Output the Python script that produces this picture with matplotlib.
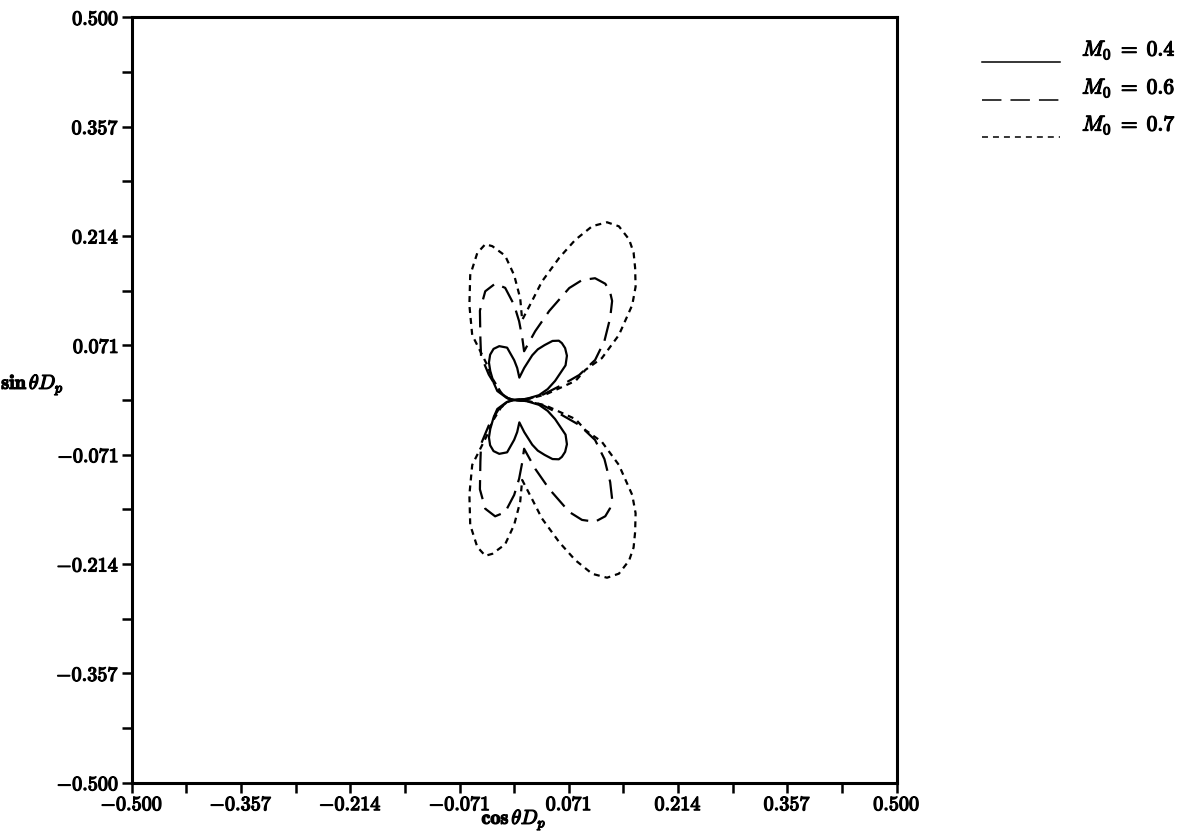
import numpy as np
import matplotlib.pyplot as plt
import matplotlib.patheffects as pe
from matplotlib.lines import Line2D

plt.rcParams['mathtext.fontset'] = 'cm'
plt.rcParams['lines.scale_dashes'] = False

theta_04 = [0, 5, 11, 18, 25, 34, 40, 45.5, 50, 53, 57, 61, 65, 68, 72.6, 77,
            84.6, 90, 97.7, 105.5, 112, 118, 124, 129.6, 140, 152, 165, 180]
dp_04 = [0, 0.016, 0.033, 0.046, 0.059, 0.081, 0.090, 0.095, 0.097, 0.097, 0.092, 0.082,
         0.073, 0.063, 0.044, 0.030, 0.042, 0.052, 0.069, 0.073, 0.072, 0.067, 0.059,
         0.049, 0.035, 0.025, 0.010, 0]

theta_06 = [0, 5, 10, 17.4, 21, 26.3, 33.2, 40.5, 45.3, 48.5, 51.9, 56.4, 60.5, 63.8, 68.5, 73,
            78.5, 82.6, 86.4, 90, 94.6, 99.3, 104.9, 111, 118.7, 127, 135, 150, 165, 180]
dp_06 = [0, 0.018, 0.037, 0.065, 0.091, 0.118, 0.141, 0.165, 0.182, 0.189, 0.193, 0.191, 0.180,
         0.163, 0.125, 0.094, 0.065, 0.082, 0.103, 0.124, 0.147, 0.154, 0.147, 0.125,
         0.092, 0.072, 0.047, 0.023, 0.009, 0]

theta_07 = [0, 5, 10, 17.3, 22.9, 25.5, 31.8, 38.8, 43, 47.5, 51, 54.4, 58.9, 62.4, 65.8, 69.1,
            72.4, 76.8, 79.7, 84.3, 86.6, 90, 93.6, 98.1, 100.5, 104.1, 109.4, 115.3,
            122.9, 127.6, 135, 150, 165, 180]
dp_07 = [0, 0.020, 0.042, 0.084, 0.101, 0.127, 0.161, 0.198, 0.217, 0.234, 0.248, 0.258, 0.265,
         0.262, 0.249, 0.224, 0.195, 0.159, 0.132, 0.105, 0.133, 0.163, 0.189, 0.203, 0.207,
         0.198, 0.173, 0.137, 0.101, 0.058, 0.041, 0.020, 0.008, 0]

series = [
    (theta_04, dp_04, r'$M_0\;=\;\mathbf{0.4}$', '-'),
    (theta_06, dp_06, r'$M_0\;=\;\mathbf{0.6}$', (0, (14, 6.5))),
    (theta_07, dp_07, r'$M_0\;=\;\mathbf{0.7}$', (0, (4.3, 3.6))),
]

major_ticks = [-0.5 + k / 7 for k in range(8)]
minor_ticks = [-0.5 + (2 * k + 1) / 14 for k in range(7)]
tick_labels = ['-0.500', '-0.357', '-0.214', '-0.071', '0.071', '0.214', '0.357', '0.500']

# scanned TeX bold looks heavier than cmb10, thicken it a little
bold = [pe.withStroke(linewidth=0.9, foreground='black')]

fig = plt.figure(figsize=(11.98, 8.39), dpi=100)
ax = fig.add_axes([0.1099, 0.0671, 0.6386, 0.9123])

for th, dp, label, ls in series:
    th = np.radians(np.array(th, dtype=float))
    dp = np.array(dp, dtype=float)
    full_th = np.concatenate([th, -th[::-1]])
    full_dp = np.concatenate([dp, dp[::-1]])
    ax.plot(np.cos(full_th) * full_dp, np.sin(full_th) * full_dp,
            color='black', lw=1.6, linestyle=ls)

ax.set_xlim(-0.5, 0.5)
ax.set_ylim(-0.5, 0.5)

fmt = [r'$\mathbf{' + t + '}$' for t in tick_labels]
ax.set_xticks(major_ticks, fmt)
ax.set_yticks(major_ticks, fmt)
ax.set_xticks(minor_ticks, minor=True)
ax.set_yticks(minor_ticks, minor=True)
ax.tick_params(which='both', direction='out', length=7, width=1.8, labelsize=14.5, pad=2)
for lab in ax.get_xticklabels() + ax.get_yticklabels():
    lab.set_path_effects(bold)

for sp in ax.spines.values():
    sp.set_linewidth(2.2)

fig.text(0.4290, 0.0226, r'$\mathbf{cos}\,\theta D_p$', fontsize=14.5, ha='center',
         va='center', path_effects=bold)
fig.text(0.001, 0.5411, r'$\mathbf{sin}\,\theta D_p$', fontsize=14.5, ha='left',
         va='center', path_effects=bold)

# legend drawn by hand to the right of the axes
line_y = [0.9261, 0.8808, 0.8367]
text_y = [0.9404, 0.8951, 0.8510]
for (th, dp, label, ls), ly, ty in zip(series, line_y, text_y):
    fig.add_artist(Line2D([0.8197, 0.8848], [ly, ly], transform=fig.transFigure,
                          color='black', lw=1.1, linestyle=ls))
    fig.text(0.9032, ty, label, fontsize=15.5, ha='left', va='center', path_effects=bold)

fig.savefig('out.png', dpi=100)
